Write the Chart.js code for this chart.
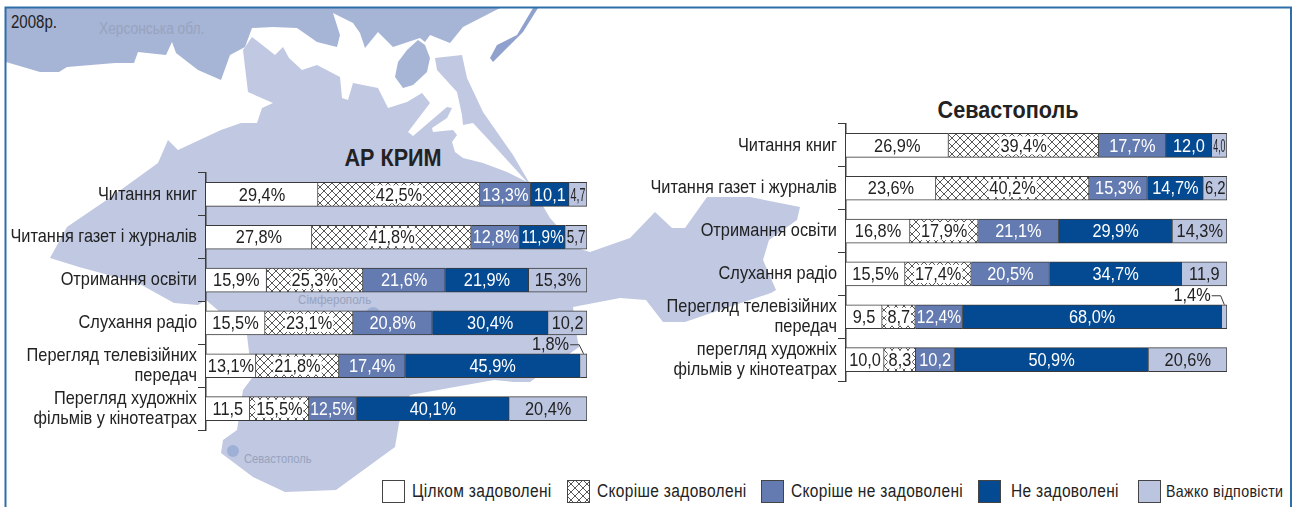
<!DOCTYPE html>
<html lang="uk">
<head>
<meta charset="utf-8">
<title>2008р.</title>
<script src="https://cdn.jsdelivr.net/npm/chart.js@4"></script>
<style>
  body { margin: 0; background: #fff; width: 1295px; height: 507px; overflow: hidden; position: relative;
         font-family: "Liberation Sans", sans-serif; color: #222; }
  #map { position: absolute; left: 0; top: 0; }
  canvas { position: absolute; }
  .txt { position: absolute; white-space: nowrap; line-height: 1; transform: scaleX(0.86); transform-origin: 0 0; }
  .title { font-size: 24px; font-weight: bold; transform: translateX(-50%) scaleX(0.9); transform-origin: 50% 0; }
  .place { color: #98a3bd; font-size: 13px; }
  .sw { position: absolute; top: 480px; width: 21px; height: 21px; border: 1px solid #444; }
  .leg { font-size: 18px; top: 482px; letter-spacing: 0.4px; }
</style>
</head>
<body>
<svg id="map" width="1295" height="507">
  <path fill="#a6b4d6" d="M6 8 L500 8 L463 27 L450 43 L430 35 L425 42 L420 38 L393 47 L378 32 L365 48 L360 33 L353 23 L333 13 L340 35 L337 47 L317 42 L297 28 L273 27 L252 28 L245 47 L230 55 L221 80 L198 70 L176 53 L172 42 L166 55 L138 52 L134 63 L115 63 L67 67 L59 72 L40 72 L6 62 Z"/>
  <path fill="#a6b4d6" d="M418 40 L425 45 L430 58 L427 72 L413 85 L403 88 L395 77 L398 62 L407 50 Z"/>
  <path fill="#8fa1cc" d="M538 8 L523 32 L493 62 L490 58 L497 45 L517 35 L533 8 Z"/>
  <path fill="#c0c8e2" d="M252 37 L275 55 L283 47 L289 58 L302 70 L317 65 L340 77 L342 98 L348 100 L353 83 L378 88 L388 108 L407 102 L422 93 L430 103 L408 132 L413 136 L447 107 L452 108 L447 118 L432 128 L433 132 L453 130 L457 135 L452 142 L455 152 L463 158 L483 163 L507 172 L527 182 L487 138 L473 123 L463 125 L462 115 L457 92 L437 70 L435 58 L462 55 L467 78 L483 112 L513 155 L550 218 L577 248 L590 252 L630 238 L655 212 L672 228 L685 228 L707 197 L750 197 L800 207 L797 220 L769 240 L763 260 L776 290 L771 293 L720 310 L685 322 L663 322 L646 300 L620 298 L573 307 L577 337 L579 347 L530 382 L514 382 L494 380 L410 395 L399 423 L395 447 L336 490 L285 492 L253 477 L221 453 L223 440 L237 430 L243 390 L252 378 L247 335 L206 300 L198 305 L174 303 L138 283 L79 267 L50 258 L67 227 L111 197 L158 163 L168 140 L178 150 L221 130 L241 123 L257 123 L262 108 L273 103 L248 92 L243 50 Z"/>
  <circle cx="233" cy="451" r="6" fill="#9fb0d6"/>
  <circle cx="373" cy="314" r="7" fill="#9fb0d6"/>
  <path fill="none" stroke="#2f6fa8" stroke-width="2" d="M5.5 507 L5.5 7.5 L1291 7.5 L1291 507"/>
</svg>

<div class="txt" style="left:11px;top:14px;font-size:17.5px">2008р.</div>
<div class="txt" style="left:99px;top:21px;font-size:16px;color:#98a3bd">Херсонська обл.</div>
<div class="txt place" style="left:298px;top:293px;font-size:13.5px">Сімферополь</div>
<div class="txt place" style="left:244px;top:452px">Севастополь</div>
<div class="txt title" style="left:393px;top:146px">АР КРИМ</div>
<div class="txt title" style="left:1008px;top:98px">Севастополь</div>

<canvas id="krymChart" width="600" height="262" style="left:0;top:171px"></canvas>
<canvas id="sevChart" width="600" height="262" style="left:640px;top:122px"></canvas>

<div class="sw" style="left:382px;background:#fff"></div>
<div class="txt leg" style="left:412px">Цілком задоволені</div>
<canvas id="hatchSwatch" width="23" height="23" style="left:567px;top:480px"></canvas>
<div class="txt leg" style="left:597px">Скоріше задоволені</div>
<div class="sw" style="left:761px;background:#647bb2"></div>
<div class="txt leg" style="left:791px">Скоріше не задоволені</div>
<div class="sw" style="left:978px;background:#034a93"></div>
<div class="txt leg" style="left:1011px">Не задоволені</div>
<div class="sw" style="left:1138px;background:#bcc5e0"></div>
<div class="txt leg" style="left:1166px;font-size:16.5px;top:483px">Важко відповісти</div>

<script>
const seriesNames = ["Цілком задоволені", "Скоріше задоволені", "Скоріше не задоволені", "Не задоволені", "Важко відповісти"];

const krymCategories = ["Читання книг", "Читання газет і журналів", "Отримання освіти", "Слухання радіо",
  ["Перегляд телевізійних", "передач"], ["Перегляд художніх", "фільмів у кінотеатрах"]];
const krymFull = [29.4, 27.8, 15.9, 15.5, 13.1, 11.5];
const krymRather = [42.5, 41.8, 25.3, 23.1, 21.8, 15.5];
const krymRatherNot = [13.3, 12.8, 21.6, 20.8, 17.4, 12.5];
const krymNot = [10.1, 11.9, 21.9, 30.4, 45.9, 40.1];
const krymHard = [4.7, 5.7, 15.3, 10.2, 1.8, 20.4];
// "series:row" cells printed without the % sign
const krymPlain = ["3:0", "4:0", "4:1", "4:3", "0:5"];

const sevCategories = ["Читання книг", "Читання газет і журналів", "Отримання освіти", "Слухання радіо",
  ["Перегляд телевізійних", "передач"], ["перегляд художніх", "фільмів у кінотеатрах"]];
const sevFull = [26.9, 23.6, 16.8, 15.5, 9.5, 10.0];
const sevRather = [39.4, 40.2, 17.9, 17.4, 8.7, 8.3];
const sevRatherNot = [17.7, 15.3, 21.1, 20.5, 12.4, 10.2];
const sevNot = [12.0, 14.7, 29.9, 34.7, 68.0, 50.9];
const sevHard = [4.0, 6.2, 14.3, 11.9, 1.4, 20.6];
const sevPlain = ["3:0", "4:0", "4:1", "4:3", "0:4", "1:4", "0:5", "1:5", "2:5"];

const FONT = '"Liberation Sans", sans-serif';
const LINE = "#3a3a3a";
const NARROW = 0.86;

function makeHatch() {
  const tile = document.createElement("canvas");
  tile.width = 8;
  tile.height = 8;
  const c = tile.getContext("2d");
  c.fillStyle = "#fff";
  c.fillRect(0, 0, 8, 8);
  c.strokeStyle = "#444";
  c.lineWidth = 0.9;
  c.beginPath();
  c.moveTo(0, 0); c.lineTo(8, 8);
  c.moveTo(8, 0); c.lineTo(0, 8);
  c.stroke();
  return c.createPattern(tile, "repeat");
}

const hatch = makeHatch();
const fills = ["#ffffff", hatch, "#647bb2", "#034a93", "#bcc5e0"];
const inks = ["#222", "#222", "#fff", "#fff", "#222"];

const hatchCtx = document.getElementById("hatchSwatch").getContext("2d");
hatchCtx.fillStyle = hatch;
hatchCtx.fillRect(0, 0, 23, 23);
hatchCtx.strokeStyle = "#444";
hatchCtx.strokeRect(0.5, 0.5, 22, 22);

// no narrow face is installed, so all canvas text goes through a horizontal squeeze
function squeezeText(ctx) {
  const rawFill = ctx.fillText.bind(ctx);
  ctx.fillText = (text, x, y, maxWidth) => {
    ctx.save();
    ctx.translate(x, y);
    ctx.scale(NARROW, 1);
    if (maxWidth === undefined) rawFill(text, 0, 0);
    else rawFill(text, 0, 0, maxWidth / NARROW);
    ctx.restore();
  };
}

// prints the value on each segment, and the tiny last segment outside with a leader line
const segmentLabels = {
  id: "segmentLabels",
  afterDatasetsDraw(chart, args, opts) {
    const ctx = chart.ctx;
    ctx.save();
    ctx.font = "19px " + FONT;
    ctx.textAlign = "center";
    ctx.textBaseline = "middle";
    chart.data.datasets.forEach((ds, si) => {
      chart.getDatasetMeta(si).data.forEach((bar, row) => {
        const text = ds.data[row].toFixed(1).replace(".", ",") + (opts.plain.includes(si + ":" + row) ? "" : "%");
        const left = bar.base;
        const right = bar.x;
        const y = bar.y;
        if (si === 4 && row === 4) {
          ctx.fillStyle = "#222";
          ctx.textAlign = "right";
          ctx.fillText(text, left - 11, y - 21);
          ctx.textAlign = "center";
          ctx.strokeStyle = LINE;
          ctx.lineWidth = 1;
          ctx.beginPath();
          ctx.moveTo(left - 10, y - 21);
          ctx.lineTo(left - 1, y - 21);
          ctx.lineTo((left + right) / 2, y - 12);
          ctx.stroke();
          return;
        }
        const cx = (left + right) / 2;
        const w = Math.min(ctx.measureText(text).width * NARROW, right - left - 4);
        if (si === 1) {
          ctx.fillStyle = "#fff";
          ctx.fillRect(cx - w / 2 - 1, y - 9, w + 2, 18);
        }
        ctx.fillStyle = inks[si];
        ctx.fillText(text, cx, y + 1, right - left - 3);
      });
    });
    ctx.restore();
  }
};

function drawChart(id, categories, values, plain) {
  const canvas = document.getElementById(id);
  squeezeText(canvas.getContext("2d"));
  return new Chart(canvas, {
    type: "bar",
    plugins: [segmentLabels],
    data: {
      labels: categories,
      datasets: values.map((data, i) => ({
        label: seriesNames[i],
        data,
        backgroundColor: fills[i],
        borderColor: LINE,
        borderWidth: 1,
        barThickness: 24
      }))
    },
    options: {
      indexAxis: "y",
      responsive: false,
      animation: false,
      layout: { padding: { top: 2, bottom: 3, right: 13 } },
      plugins: {
        legend: { display: false },
        tooltip: { enabled: false },
        segmentLabels: { plain }
      },
      scales: {
        x: { display: false, stacked: true, min: 0, max: 100 },
        y: {
          stacked: true,
          afterFit: (scale) => {
            scale.width = 206;
            scale.paddingTop = 0;
            scale.paddingBottom = 0;
          },
          grid: { drawOnChartArea: false, color: LINE, tickLength: 8 },
          border: { color: LINE, width: 1.5 },
          ticks: { color: "#222", padding: 1, autoSkip: false, font: { family: FONT, size: 19, lineHeight: 1.08 } }
        }
      }
    }
  });
}

drawChart("krymChart", krymCategories, [krymFull, krymRather, krymRatherNot, krymNot, krymHard], krymPlain);
drawChart("sevChart", sevCategories, [sevFull, sevRather, sevRatherNot, sevNot, sevHard], sevPlain);
</script>
</body>
</html>
